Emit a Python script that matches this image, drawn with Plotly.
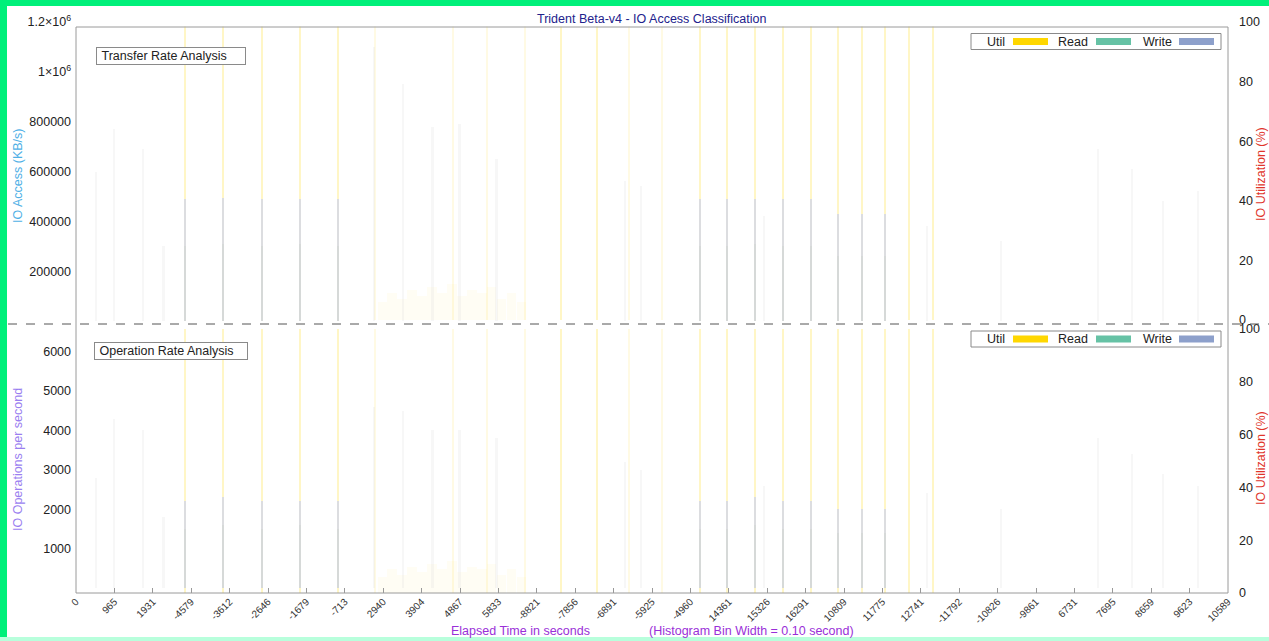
import plotly.graph_objects as go

W, H = 1269, 641

# ---------------- data (seconds / values) ----------------
tick_step = 965.3
tick_labels = ["0", "965", "1931", "-4579", "-3612", "-2646", "-1679", "-713", "2940", "3904",
               "4867", "5833", "-8821", "-7856", "-6891", "-5925", "-4960", "14361", "15326",
               "16291", "10809", "11775", "12741", "-11792", "-10826", "-9861", "6731", "7695",
               "8659", "9623", "10589"]

# saturated IO utilisation bursts (%)
util_major_t = [2740, 3696, 4676, 5631, 6587, 12193, 13098, 15687, 16366, 17070, 17774,
                18478, 19157, 19760, 20338, 20942, 21545]
util_major = [100] * len(util_major_t)
util_minor_t = [7517, 11288, 13902, 14732, 9480, 10330]
util_minor = [100, 100, 100, 100, 100, 100]
util_low_t = [7700, 7950, 8200, 8450, 8700, 8950, 9200, 9450, 9700, 9950, 10200, 10450, 10700, 10950, 11200]
util_low = [6, 9, 7, 10, 8, 11, 9, 12, 8, 10, 9, 11, 7, 9, 6]

# transfer rate spikes (KB/s)
rw_t = [2740, 3696, 4676, 5631, 6587, 15687, 16366, 17070, 17774, 18478, 19157, 19760, 20338]
read_kb = [300000, 310000, 300000, 310000, 300000, 300000, 300000, 310000, 300000, 300000, 260000, 260000, 260000]
write_kb = [490000, 495000, 490000, 490000, 490000, 490000, 490000, 490000, 490000, 490000, 430000, 430000, 430000]
faint_t = [500, 960, 1690, 2200, 7500, 8230, 8960, 9640, 10570, 13800, 14200, 17300, 21400,
           23250, 25690, 26540, 27330, 28200]
faint_kb = [600000, 770000, 690000, 300000, 1100000, 950000, 780000, 790000, 650000, 560000,
            540000, 420000, 380000, 320000, 690000, 610000, 480000, 520000]

# operation rate spikes (ops/s)
read_ops = [1500, 1600, 1500, 1600, 1500, 1500, 1500, 1600, 1500, 1500, 1400, 1400, 1400]
write_ops = [2200, 2300, 2200, 2200, 2200, 2200, 2200, 2300, 2200, 2200, 2000, 2000, 2000]
faint_ops = [2800, 4300, 4000, 1800, 4600, 4500, 4000, 4000, 3800, 3200,
             3000, 2600, 2400, 2000, 3800, 3400, 2900, 2600]

# ---------------- colours ----------------
C_UTIL, C_READ, C_WRITE = "#FFD700", "#66C2A5", "#8DA0CB"
BW = 55  # bar width in seconds (~2px)

fig = go.Figure()

# util on the base (right-side) axis, transfer/ops on the overlaying (left-side) axis,
# so the read/write spikes are painted over the utilisation bands
def add_panel(xa, y_util, y_rate, rk, wk, fk):
    fig.add_trace(go.Bar(x=util_low_t, y=util_low, width=240, marker=dict(color=C_UTIL, line_width=0),
                         opacity=0.04, xaxis=xa, yaxis=y_util, showlegend=False, hoverinfo="skip"))
    fig.add_trace(go.Bar(x=util_minor_t, y=util_minor, width=BW, marker=dict(color=C_UTIL, line_width=0),
                         opacity=0.10, xaxis=xa, yaxis=y_util, showlegend=False, name="Util"))
    fig.add_trace(go.Bar(x=util_major_t, y=util_major, width=BW, marker=dict(color=C_UTIL, line_width=0),
                         opacity=0.22, xaxis=xa, yaxis=y_util, showlegend=False, name="Util"))
    fig.add_trace(go.Bar(x=faint_t, y=fk, width=BW, marker=dict(color="#c4c4c4", line_width=0),
                         opacity=0.12, xaxis=xa, yaxis=y_rate, showlegend=False, name="Read"))
    fig.add_trace(go.Bar(x=rw_t, y=wk, width=BW, marker=dict(color="#dcdde0", line_width=0),
                         opacity=1, xaxis=xa, yaxis=y_rate, showlegend=False, name="Write"))
    fig.add_trace(go.Bar(x=rw_t, y=rk, width=BW, marker=dict(color="#d6d9d8", line_width=0),
                         opacity=1, xaxis=xa, yaxis=y_rate, showlegend=False, name="Read"))

add_panel("x", "y", "y2", read_kb, write_kb, faint_kb)
add_panel("x2", "y3", "y4", read_ops, write_ops, faint_ops)

def px(x):
    return x / W

def py(y):
    return 1 - y / H

XDOM = [px(76), px(1228)]
FONT = "Liberation Sans, Arial, Helvetica, sans-serif"
tickfont = dict(family=FONT, size=12.5, color="#222222")
tickvals = [i * tick_step for i in range(len(tick_labels))]
plain = dict(ticks="", showgrid=False, zeroline=False, showline=False)

common_x = dict(domain=XDOM, range=[0, 30 * tick_step], showgrid=False, zeroline=False, showline=False)
fig.update_layout(
    width=W, height=H, margin=dict(l=0, r=0, t=0, b=0, autoexpand=False),
    paper_bgcolor="white", plot_bgcolor="white", barmode="overlay", bargap=0,
    font=dict(family=FONT, size=12.5, color="#222222"),
    showlegend=False,
    xaxis=dict(common_x, anchor="y", showticklabels=False, ticks=""),
    xaxis2=dict(common_x, anchor="y3", tickvals=tickvals, ticktext=tick_labels, tickangle=-45,
                tickfont=dict(family=FONT, size=10, color="#333333"), ticks="inside", ticklen=5,
                tickcolor="#999999"),
    # top panel: utilisation (right) + transfer rate (left)
    yaxis=dict(plain, domain=[py(322), py(22)], range=[-0.7, 100], side="right", anchor="x",
               tickvals=[0, 20, 40, 60, 80, 100], tickfont=tickfont, ticklabelstandoff=10),
    yaxis2=dict(plain, domain=[py(322), py(22)], range=[-4000, 1200000], overlaying="y", side="left",
                anchor="x", tickvals=[200000, 400000, 600000, 800000, 1000000, 1200000],
                ticktext=["200000", "400000", "600000", "800000", "1×10<sup>6</sup>", "1.2×10<sup>6</sup>"],
                tickfont=tickfont, ticklabelstandoff=4),
    # bottom panel: utilisation (right) + operation rate (left)
    yaxis3=dict(plain, domain=[py(593), py(324)], range=[0, 101.9], side="right", anchor="x2",
                tickvals=[0, 20, 40, 60, 80, 100], tickfont=tickfont, ticklabelstandoff=10),
    yaxis4=dict(plain, domain=[py(593), py(324)], range=[-127, 6700], overlaying="y3", side="left",
                anchor="x2", tickvals=[1000, 2000, 3000, 4000, 5000, 6000], tickfont=tickfont,
                ticklabelstandoff=4),
)

shapes = []
def rect(x0, y0, x1, y1, **kw):
    shapes.append(dict(type="rect", xref="paper", yref="paper", x0=px(x0), x1=px(x1),
                       y0=py(y0), y1=py(y1), **kw))
def line(x0, y0, x1, y1, color="#9a9a9a", width=1, dash=None):
    d = dict(type="line", xref="paper", yref="paper", x0=px(x0), x1=px(x1), y0=py(y0), y1=py(y1),
             line=dict(color=color, width=width), layer="above")
    if dash:
        d["line"]["dash"] = dash
    shapes.append(d)

# page border (green frame of the screenshot)
rect(0, 0, W, 6, fillcolor="#00F07A", line_width=0, layer="above")
rect(0, 0, 7, H, fillcolor="#00F07A", line_width=0, layer="above")
rect(0, 637, W, H, fillcolor="#B8FFDC", line_width=0, layer="above")
# mask above the frame top
rect(76.5, 20, 1227.5, 26.5, fillcolor="white", line_width=0, layer="above")
# frame
line(76, 27, 1228, 27)
line(76, 27, 76, 593)
line(1228, 27, 1228, 593)
line(76, 593, 1228, 593)
line(8, 324, W, 324, color="#555555", dash="dash")

# legend boxes + swatches
for yc in (41.5, 339):
    rect(971, yc - 8, 1221, yc + 8, line=dict(color="#8a8a8a", width=1), fillcolor="white", layer="above")
    rect(1013, yc - 3.5, 1048, yc + 3.5, fillcolor=C_UTIL, line_width=0, layer="above")
    rect(1096, yc - 3.5, 1131, yc + 3.5, fillcolor=C_READ, line_width=0, layer="above")
    rect(1179, yc - 3.5, 1214, yc + 3.5, fillcolor=C_WRITE, line_width=0, layer="above")
fig.update_layout(shapes=shapes)

ann = []
def text(x, y, s, color="#222222", size=12.5, angle=0, xanchor="center", **kw):
    ann.append(dict(x=px(x), y=py(y), xref="paper", yref="paper", text=s, showarrow=False,
                    textangle=angle, xanchor=xanchor, yanchor="middle",
                    font=dict(family=FONT, size=size, color=color), **kw))

text(652, 19, "Trident Beta-v4 - IO Access Classification", color="#22228c")
text(96, 56, "\u00a0Transfer Rate Analysis", xanchor="left", bordercolor="#8a8a8a", borderwidth=1,
     borderpad=1, width=146, height=14, align="left", bgcolor="white")
text(94, 351, "\u00a0Operation Rate Analysis", xanchor="left", bordercolor="#8a8a8a", borderwidth=1,
     borderpad=1, width=150, height=14, align="left", bgcolor="white")
for yc in (41.5, 339):
    text(1007, yc, "Util", xanchor="right")
    text(1090, yc, "Read", xanchor="right")
    text(1174, yc, "Write", xanchor="right")
text(18, 176, "IO Access (KB/s)", color="#4fb0e6", angle=-90)
text(18, 460, "IO Operations per second", color="#9a7ef0", angle=-90)
text(1261, 174, "IO Utilization (%)", color="#e0352b", angle=-90)
text(1261, 458, "IO Utilization (%)", color="#e0352b", angle=-90)
text(652, 631, "Elapsed Time in seconds" + "\u00a0" * 17 + "(Histogram Bin Width = 0.10 second)",
     color="#9a2fd8")
fig.update_layout(annotations=ann)

fig.write_html("out.html", config={"displayModeBar": False},
               post_script="document.body.style.margin='0';document.body.style.overflow='hidden';")
